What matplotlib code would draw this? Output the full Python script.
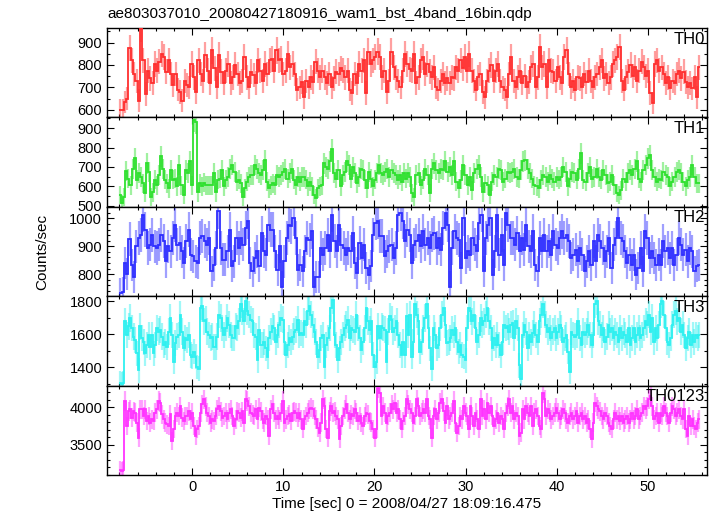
import numpy as np
import matplotlib
matplotlib.use("Agg")
import matplotlib.pyplot as plt
from matplotlib.ticker import MultipleLocator

plt.rcParams['font.family'] = ['Liberation Sans', 'DejaVu Sans']

title = "ae803037010_20080427180916_wam1_bst_4band_16bin.qdp"
xlabel = "Time [sec] 0 = 2008/04/27 18:09:16.475"
ylabel = "Counts/sec"
panel_names = ["TH0", "TH1", "TH2", "TH3", "TH0123"]
colors = ["#ff2e2e", "#2ee02e", "#2e2eff", "#2ef0f0", "#ff33ff"]

# first half (t = -8 .. 24 s) and second half (t = 24 .. 55.75 s) readings
th0_a = [600, 600, 635, 650, 875, 820, 760, 730, 640, 965,
         820, 670, 775, 740, 720, 805, 775, 815, 850, 835,
         770, 820, 760, 710, 760, 690, 680, 640, 730, 710,
         700, 805, 745, 680, 820, 760, 730, 845, 775, 720,
         865, 785, 700, 845, 770, 720, 775, 805, 720, 745,
         800, 760, 720, 730, 835, 745, 700, 770, 755, 720,
         820, 775, 730, 805, 760, 820, 828, 775, 865, 820,
         828, 760, 775, 850, 790, 805, 760, 690, 700, 725,
         655, 730, 700, 745, 725, 815, 775, 745, 775, 745,
         720, 760, 700, 740, 770, 760, 785, 775, 745, 775,
         690, 675, 760, 720, 805, 775, 820, 675, 860, 805,
         820, 835, 860, 835, 745, 775, 680, 730, 860, 790,
         745, 730, 700, 775, 850, 805, 780]
th0_b = [775, 850, 720, 745, 820, 835, 760, 805, 770, 745,
         790, 700, 690, 730, 760, 720, 740, 720, 745, 740,
         790, 775, 820, 785, 835, 775, 850, 775, 730, 690,
         745, 760, 680, 655, 730, 775, 800, 730, 775, 805,
         730, 700, 690, 655, 760, 835, 730, 700, 745, 775,
         720, 750, 700, 725, 790, 805, 700, 745, 880, 790,
         805, 700, 820, 775, 770, 730, 790, 745, 720, 835,
         865, 760, 700, 730, 690, 745, 740, 700, 760, 725,
         775, 730, 700, 745, 760, 790, 820, 740, 760, 720,
         745, 805, 820, 835, 880, 730, 690, 745, 770, 800,
         750, 790, 730, 775, 815, 790, 750, 775, 675, 630,
         805, 820, 775, 790, 760, 720, 745, 695, 730, 720,
         760, 775, 740, 770, 725, 700, 720, 695, 745, 655, 790]

th1_a = [555, 512, 545, 680, 640, 605, 690, 745, 635, 670,
         650, 615, 565, 720, 675, 545, 570, 635, 605, 660,
         755, 690, 635, 615, 590, 685, 635, 640, 600, 710,
         605, 555, 685, 670, 730, 605, 940, 930,
         570, 615, 600, 620, 605, 605, 605, 605, 670, 570, 635, 640,
         685, 600, 635, 650, 690, 710, 675, 625, 635, 615,
         545, 590, 625, 650, 660, 660, 710, 690, 670, 660,
         685, 735, 625, 590, 605, 615, 605, 660, 650, 660,
         675, 690, 640, 670, 690, 635, 605, 650, 625, 650,
         650, 635, 600, 625, 600, 555, 540, 590, 600, 605,
         720, 700, 690, 730, 790, 670, 640, 685, 600, 660,
         675, 730, 710, 640, 700, 670, 615, 650, 690, 685,
         635, 590, 675, 640, 600, 635, 670, 710, 670, 660,
         675, 690, 650, 685, 670, 660, 635, 660, 625, 670,
         640, 670, 650]
th1_b = [565, 545, 660, 670, 605, 635, 690, 660, 565, 690,
         720, 685, 670, 690, 685, 730, 675, 700, 660, 730,
         625, 590, 635, 710, 660, 605, 650, 580, 670, 690,
         710, 650, 570, 615, 605, 555, 625, 660, 650, 690,
         685, 625, 640, 675, 670, 675, 690, 650, 640, 685,
         730, 735, 690, 670, 640, 605, 600, 590, 635, 660,
         650, 625, 660, 640, 625, 650, 635, 650, 700, 675,
         600, 640, 675, 670, 635, 690, 770, 635, 625, 670,
         700, 640, 650, 690, 650, 635, 685, 660, 615, 625,
         660, 605, 565, 555, 580, 640, 625, 670, 685, 660,
         690, 730, 640, 625, 685, 710, 745, 760, 685, 650,
         625, 640, 635, 675, 660, 650, 600, 625, 650, 675,
         685, 670, 625, 600, 635, 650, 710, 650, 615, 615]

th2_a = [731, 735, 840, 800, 925, 834, 790, 900, 930, 942,
         1014, 960, 894, 906, 942, 900, 894, 906, 942, 918,
         846, 900, 882, 930, 978, 906, 912, 882, 840, 918,
         960, 870, 864, 846, 840, 930, 936, 918, 906, 930,
         810, 834, 894, 1026, 894, 852, 852, 882, 960, 828,
         846, 930, 894, 930, 906, 966, 990, 840, 810, 858,
         882, 828, 948, 882, 870, 978, 960, 960, 882, 816,
         900, 755, 846, 930, 978, 972, 1000, 930, 816, 834,
         810, 882, 930, 924, 954, 755, 790, 790, 894, 870,
         894, 942, 882, 1014, 918, 882, 978, 906, 894, 870,
         894, 882, 948, 840, 804, 912, 858, 906, 822, 798,
         828, 942, 984, 990, 936, 936, 864, 882, 900, 906,
         858, 894, 1014, 1020, 990, 918, 960, 940]
th2_b = [840, 906, 918, 942, 900, 954, 906, 930, 894, 942,
         948, 894, 930, 888, 966, 1020, 978, 755, 894, 954,
         930, 924, 822, 1002, 858, 882, 870, 930, 906, 882,
         984, 1014, 810, 930, 978, 1002, 798, 882, 1014, 870,
         942, 834, 1020, 978, 930, 930, 906, 948, 882, 930,
         888, 978, 900, 882, 954, 834, 810, 930, 882, 942,
         882, 918, 870, 954, 906, 894, 930, 954, 930, 942,
         918, 858, 870, 888, 846, 894, 870, 810, 846, 882,
         834, 918, 846, 942, 918, 894, 846, 882, 930, 822,
         906, 930, 1002, 930, 918, 882, 840, 870, 834, 870,
         798, 822, 894, 810, 954, 930, 858, 882, 858, 834,
         870, 834, 918, 882, 894, 858, 894, 834, 870, 930,
         906, 870, 888, 846, 894, 882, 810, 828, 834]

th3_a = [1306, 1300, 1306, 1678, 1596, 1647, 1698, 1637, 1586, 1565,
         1484, 1382, 1647, 1576, 1555, 1484, 1535, 1596, 1525, 1596,
         1484, 1535, 1637, 1616, 1627, 1586, 1535, 1555, 1525, 1616,
         1698, 1596, 1433, 1545, 1586, 1596, 1718, 1616, 1514, 1576,
         1565, 1596, 1474, 1463, 1494, 1463, 1402, 1392, 1759, 1769,
         1678, 1688, 1616, 1596, 1576, 1586, 1525, 1525, 1586, 1718,
         1698, 1637, 1596, 1637, 1698, 1657, 1596, 1576, 1576, 1647,
         1637, 1678, 1780, 1739, 1678, 1800, 1739, 1718, 1688, 1678,
         1596, 1586, 1443, 1627, 1535, 1535, 1555, 1514, 1463, 1576,
         1616, 1647, 1637, 1555, 1596, 1657, 1698, 1688, 1555, 1474,
         1535, 1576, 1555, 1586, 1616, 1627, 1688, 1596, 1606, 1596,
         1678, 1657, 1739, 1769, 1718, 1657, 1616, 1555, 1463, 1504,
         1576, 1596, 1402, 1535, 1576, 1637, 1759, 1810, 1596, 1535,
         1443, 1514, 1555, 1596, 1637, 1657, 1688, 1576, 1637, 1627,
         1616, 1718, 1637, 1576, 1504, 1555, 1637, 1759, 1678, 1627,
         1678, 1474, 1402, 1433, 1647, 1576, 1647, 1637, 1627, 1433,
         1616, 1708, 1688, 1616, 1637, 1678, 1596, 1535, 1474, 1555,
         1474, 1708, 1596, 1718]
th3_b = [1463, 1555, 1780, 1718, 1678, 1494, 1555, 1637, 1698, 1780,
         1637, 1514, 1392, 1637, 1596, 1514, 1535, 1637, 1718, 1759,
         1657, 1545, 1555, 1576, 1627, 1596, 1637, 1555, 1494, 1535,
         1474, 1463, 1443, 1637, 1759, 1739, 1678, 1718, 1637, 1555,
         1596, 1698, 1657, 1678, 1718, 1759, 1678, 1637, 1514, 1576,
         1535, 1596, 1535, 1474, 1555, 1657, 1637, 1647, 1616, 1657,
         1667, 1576, 1678, 1637, 1412, 1331, 1596, 1657, 1616, 1514,
         1596, 1555, 1606, 1657, 1596, 1555, 1678, 1718, 1780, 1718,
         1657, 1616, 1637, 1576, 1616, 1637, 1576, 1616, 1657, 1637,
         1555, 1576, 1596, 1494, 1372, 1616, 1596, 1586, 1596, 1678,
         1576, 1535, 1616, 1596, 1616, 1657, 1596, 1535, 1596, 1780,
         1800, 1678, 1657, 1596, 1637, 1555, 1586, 1657, 1616, 1637,
         1576, 1616, 1596, 1555, 1637, 1576, 1616, 1596, 1555, 1637,
         1535, 1576, 1637, 1555, 1596, 1637, 1576, 1596, 1637, 1678,
         1657, 1718, 1616, 1698, 1555, 1637, 1576, 1657, 1780, 1800,
         1718, 1637, 1555, 1535, 1576, 1657, 1718, 1739, 1678, 1698,
         1616, 1657, 1596, 1514, 1576, 1616, 1535, 1596, 1555, 1596,
         1576, 1596]

th0123_a = [3171, 3158, 3171, 4079, 3750, 3947, 3969, 3860, 3947, 3925,
            3794, 3596, 3969, 3969, 3882, 3969, 3816, 3882, 3794, 3838,
            3816, 3925, 3969, 4079, 4057, 3903, 3838, 3794, 3772, 3750,
            3903, 3553, 3706, 3882, 3925, 3882, 4013, 3860, 3816, 3882,
            3882, 3947, 3838, 3925, 3750, 3618, 3706, 3750, 3925, 4035,
            4101, 4013, 3925, 3882, 3794, 3838, 3816, 3882, 3969, 4013,
            3947, 3860, 3882, 3925, 3838, 3925, 3969, 3882, 3750, 3838,
            3947, 3925, 3860, 3947, 3794, 4101, 4079, 4013, 3925, 3903,
            3882, 3969, 3838, 3991, 3947, 3838, 3794, 3882, 3838, 3618,
            3969, 4035, 3925, 3838, 3882, 3838, 3925, 4079, 3794, 3838,
            3882, 3903, 3816, 3925, 3947, 3925, 3860, 3925, 3838, 3706,
            3838, 3882, 3925, 3969, 3991, 3969, 3882, 3838, 3728, 3662,
            3794, 4101, 4013, 3706, 3596, 3947, 4013, 3925, 3947, 3882,
            3838, 3575, 3750, 3882, 3969, 4035, 3925, 3838, 3903, 3882,
            3969, 3925, 3816, 3882, 3794, 3750, 3882, 3925, 3903, 3816,
            3794, 3706, 3596, 3706, 4254, 4189, 3882, 4013, 3925, 3794,
            3882, 3925, 4035, 3969, 4057, 3925, 3969, 3838, 3706, 3816,
            3882, 4101, 4035, 3969]
th0123_b = [3925, 3794, 3882, 4101, 4013, 3882, 3925, 3969, 3925, 4101,
            3882, 3838, 3596, 3882, 3969, 3838, 3925, 4057, 4101, 3947,
            3794, 4013, 3838, 3882, 3925, 4079, 3794, 3662, 3750, 3882,
            3838, 4013, 3925, 3882, 3706, 4013, 3882, 3750, 3925, 3838,
            3706, 4101, 3882, 3969, 3838, 4057, 3925, 4013, 3882, 3750,
            3838, 3925, 3794, 3882, 3838, 3706, 3925, 4013, 4101, 3925,
            4013, 3838, 3925, 3882, 3618, 3662, 3969, 3838, 4013, 3925,
            3882, 4013, 3750, 3925, 3969, 3882, 3750, 3706, 4189, 4101,
            3882, 3969, 3925, 3838, 3882, 3925, 3991, 3925, 3838, 3882,
            3969, 3925, 3838, 3794, 3882, 3925, 3838, 3882, 3947, 3794,
            3882, 3925, 3838, 3882, 3794, 3838, 3706, 3575, 3794, 4057,
            4013, 3969, 3947, 3882, 3838, 3925, 3882, 3794, 3750, 3706,
            3838, 3925, 3838, 3882, 3816, 3882, 3794, 3838, 3882, 3794,
            3838, 3925, 3838, 3882, 3969, 3838, 3882, 3925, 4013, 3969,
            4013, 4101, 4145, 4013, 3838, 3882, 3925, 3794, 3925, 3882,
            4013, 3925, 3882, 3794, 3925, 4013, 3969, 3882, 3925, 3969,
            3882, 3838, 3969, 3706, 3618, 3882, 3750, 3838, 3750, 3706,
            3794, 3838]

series = [(th0_a, th0_b), (th1_a, th1_b), (th2_a, th2_b),
          (th3_a, th3_b), (th0123_a, th0123_b)]
ylims = [(566, 965), (495, 955), (721, 1042), (1289, 1830), (3099, 4285)]
yticks = [[600, 700, 800, 900], [500, 600, 700, 800, 900], [800, 900, 1000],
          [1400, 1600, 1800], [3500, 4000]]
yminor = [50, 50, 20, 100, 100]

t_start, t_mid, t_end = -8.0, 24.0, 55.75
bin_width = 0.25

fig = plt.figure(figsize=(7.17, 5.16), dpi=100)
left, right = 107 / 717, 707 / 717
top, bottom = 1 - 28 / 516, 1 - 475 / 516
h = (top - bottom) / 5

for k, ((a, b), name, c) in enumerate(zip(series, panel_names, colors)):
    ax = fig.add_axes([left, top - (k + 1) * h, right - left, h])
    ea = t_start + (t_mid - t_start) * np.arange(len(a) + 1) / len(a)
    eb = t_mid + (t_end - t_mid) * np.arange(len(b) + 1) / len(b)
    edges = np.concatenate([ea, eb[1:]])
    vals = np.array(a + b, dtype=float)
    centers = 0.5 * (edges[:-1] + edges[1:])
    err = np.sqrt(vals / bin_width)
    ax.errorbar(centers, vals, yerr=err, fmt='none', ecolor=c,
                elinewidth=1.6, alpha=0.45, capsize=0, zorder=2)
    ax.stairs(vals, edges, color=c, lw=1.3, baseline=None, zorder=3)
    ax.set_xlim(-9.35, 56.5)
    ax.set_ylim(*ylims[k])
    ax.set_yticks(yticks[k])
    ax.yaxis.set_minor_locator(MultipleLocator(yminor[k]))
    ax.xaxis.set_major_locator(MultipleLocator(10))
    ax.xaxis.set_minor_locator(MultipleLocator(2))
    ax.tick_params(which='both', direction='in', top=True, right=True,
                   labelsize=10.5, width=0.8, colors='black')
    ax.tick_params(which='major', length=5)
    ax.tick_params(which='minor', length=2.5)
    for sp in ax.spines.values():
        sp.set_linewidth(1.0)
    if k < 4:
        ax.tick_params(labelbottom=False)
    else:
        ax.set_xlabel(xlabel, fontsize=11, labelpad=2)
    ax.text(0.997, 0.96, name, transform=ax.transAxes, ha='right', va='top',
            fontsize=12)

fig.text(left, 1 - 14 / 516, title, ha='left', va='center', fontsize=11)
fig.text(42 / 717, (top + bottom) / 2, ylabel, rotation=90, ha='center',
         va='center', fontsize=11)

fig.savefig("out.png", dpi=100)
